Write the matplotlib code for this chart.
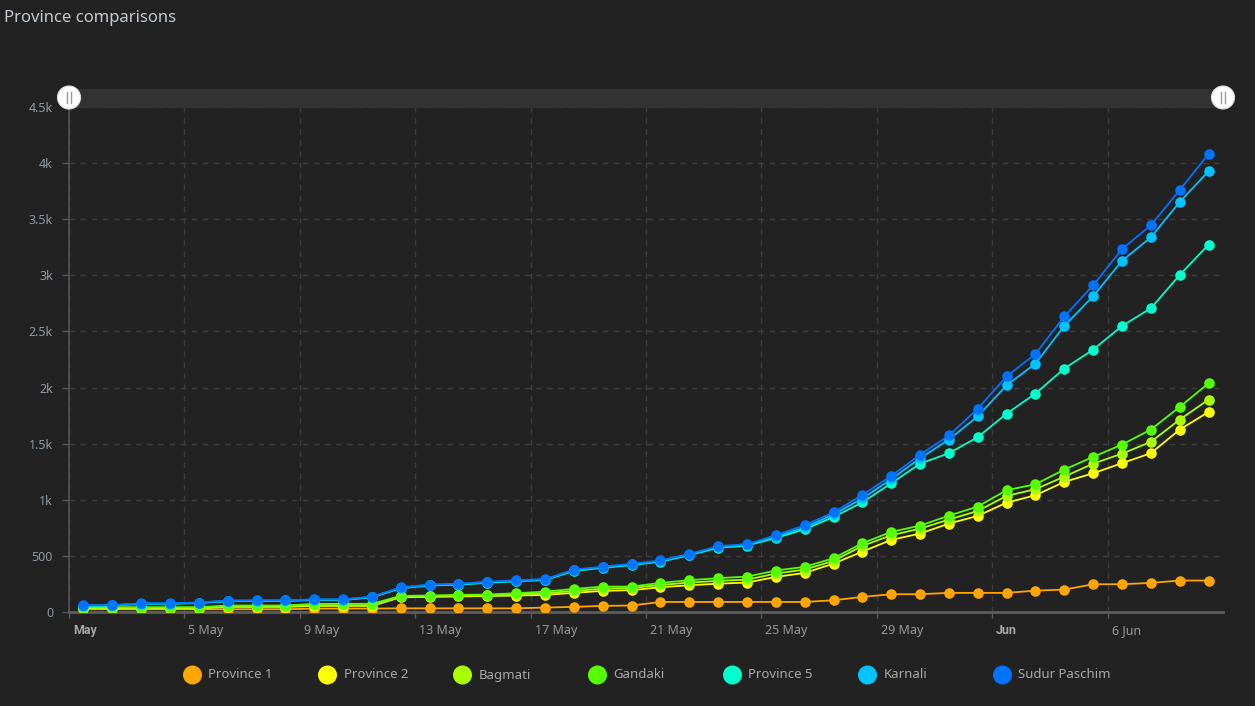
import matplotlib
matplotlib.use("Agg")
import matplotlib.pyplot as plt
import matplotlib.transforms as mtransforms
from matplotlib.patches import Circle, Rectangle
import pandas as pd

plt.rcParams["font.family"] = ["Noto Sans", "DejaVu Sans"]

# cumulative (stacked) confirmed cases, 1 May - 9 June
dates = pd.date_range("2020-05-01 12:00", periods=40, freq="D")

province_1 = [22, 22, 22, 22, 22, 22, 22, 22, 28, 28, 28, 30, 30, 30, 30, 30,
              37, 43, 52, 55, 87, 87, 87, 87, 87, 87, 102, 132, 156, 156,
              168, 168, 168, 188, 197, 245, 245, 257, 278, 278]
province_2 = [31, 31, 31, 31, 31, 43, 43, 43, 52, 52, 52, 129, 132, 136, 140, 144,
              150, 168, 186, 192, 218, 236, 250, 260, 310, 346, 429, 536, 641, 697,
              786, 855, 973, 1039, 1158, 1235, 1325, 1414, 1625, 1782]
bagmati = [35, 35, 35, 35, 35, 48, 48, 48, 58, 58, 58, 137, 140, 145, 148, 155,
           165, 185, 205, 212, 238, 260, 275, 286, 340, 376, 453, 587, 682, 741,
           822, 899, 1033, 1093, 1205, 1321, 1410, 1515, 1714, 1892]
gandaki = [40, 40, 40, 40, 40, 55, 55, 55, 70, 70, 70, 141, 144, 150, 153, 165,
           179, 203, 224, 224, 257, 281, 299, 313, 367, 400, 477, 611, 712, 768,
           857, 938, 1084, 1137, 1268, 1381, 1491, 1625, 1827, 2038]
province_5 = [52, 54, 70, 70, 77, 93, 95, 96, 104, 104, 128, 209, 234, 241, 258, 272,
              282, 364, 391, 416, 446, 504, 570, 590, 658, 735, 845, 975, 1145, 1321,
              1414, 1557, 1767, 1946, 2169, 2338, 2549, 2707, 3004, 3275]
karnali = [55, 57, 73, 73, 80, 97, 99, 100, 108, 108, 132, 214, 239, 246, 263, 277,
           287, 370, 397, 422, 452, 510, 578, 598, 668, 752, 868, 1010, 1182, 1369,
           1535, 1744, 2020, 2213, 2550, 2815, 3130, 3340, 3655, 3930]
sudur_paschim = [57, 59, 75, 75, 82, 99, 101, 102, 110, 110, 134, 217, 242, 249, 267, 281,
                 291, 375, 402, 427, 457, 516, 584, 603, 682, 772, 886, 1042, 1212, 1401,
                 1572, 1811, 2099, 2300, 2634, 2912, 3235, 3448, 3762, 4084]

series_names = ["Province 1", "Province 2", "Bagmati", "Gandaki",
                "Province 5", "Karnali", "Sudur Paschim"]
series_values = [province_1, province_2, bagmati, gandaki,
                 province_5, karnali, sudur_paschim]
series_colors = ["#FFA500", "#FFFF00", "#AAFF00", "#55FF00",
                 "#00FFCC", "#00C3FF", "#0073FF"]

y_ticks = [0, 500, 1000, 1500, 2000, 2500, 3000, 3500, 4000, 4500]
y_tick_labels = ["0", "500", "1k", "1.5k", "2k", "2.5k", "3k", "3.5k", "4k", "4.5k"]
x_ticks = pd.date_range("2020-05-01", "2020-06-06", freq="4D")
x_tick_labels = ["May", "5 May", "9 May", "13 May", "17 May", "21 May",
                 "25 May", "29 May", "Jun", "6 Jun"]

BG = "#222222"
GRID = "#3d3d3d"
W, H = 1255, 706


def fig_box(left, top, right, bottom):
    return [left / W, 1 - bottom / H, (right - left) / W, (bottom - top) / H]


fig = plt.figure(figsize=(W / 100, H / 100), dpi=100)
fig.patch.set_facecolor(BG)

ax = fig.add_axes(fig_box(69, 107.3, 1223, 611.7))
ax.set_facecolor(BG)

for i, (name, vals, col) in enumerate(zip(series_names, series_values, series_colors)):
    ax.plot(dates, vals, color=col, lw=1.3, marker="o", ms=7.6,
            mfc=col, mec=col, mew=0, label=name, zorder=3 + i)

ax.set_xlim(pd.Timestamp("2020-05-01"), pd.Timestamp("2020-06-10"))
ax.set_ylim(0, 4500)

ax.set_yticks(y_ticks)
ax.set_yticklabels(y_tick_labels)
ax.set_xticks(x_ticks)
ax.set_xticklabels(x_tick_labels)

ax.grid(True, color=GRID, lw=1, ls=(0, (4, 4)))
ax.set_axisbelow(True)

for side in ["top", "right"]:
    ax.spines[side].set_visible(False)
ax.spines["left"].set_color("#555555")
ax.spines["left"].set_linewidth(1.2)
ax.spines["bottom"].set_color("#5c5c5c")
ax.spines["bottom"].set_linewidth(2)

ax.tick_params(axis="y", colors="#555555", labelcolor="#8d99a6",
               length=5, width=1, pad=6.5, labelsize=9)
ax.tick_params(axis="x", colors="#5c5c5c", labelcolor="#9a9a9a",
               length=4, width=1, pad=5, labelsize=9)

# labels sit just right of their gridline; month starts are bold
offset = mtransforms.ScaledTranslation(4 / 100, 0, fig.dpi_scale_trans)
for tick, text in zip(ax.xaxis.get_major_ticks(), x_tick_labels):
    lab = tick.label1
    lab.set_horizontalalignment("left")
    lab.set_transform(lab.get_transform() + offset)
    if text in ("May", "Jun"):
        lab.set_family(["Roboto", "DejaVu Sans"])
        lab.set_fontweight("bold")
        lab.set_color("#a8a8a8")

# overlay in pixel coordinates: title, scrollbar, legend
over = fig.add_axes([0, 0, 1, 1], zorder=10)
over.set_xlim(0, W)
over.set_ylim(H, 0)
over.axis("off")
over.patch.set_alpha(0)

over.text(4, 18, "Province comparisons", color="#c3cad2", fontsize=12,
          va="center", ha="left")

over.add_patch(Rectangle((69, 89), 1223 - 69, 18.5, color="#333333", lw=0))
for gx in (69, 1223):
    over.add_patch(Circle((gx, 97.5), 11.5, facecolor="white",
                          edgecolor="#dddddd", lw=0.8))
    for dx in (-2, 2):
        over.plot([gx + dx, gx + dx], [92, 103], color="#9a9a9a", lw=1)

for i, (name, col) in enumerate(zip(series_names, series_colors)):
    cx = 192.5 + 135 * i
    over.add_patch(Circle((cx, 675), 9.5, color=col, lw=0))
    over.text(cx + 16, 675, name, color="#a9a9a9", fontsize=9.5,
              va="center", ha="left")

fig.savefig("out.png", dpi=100, facecolor=BG)
